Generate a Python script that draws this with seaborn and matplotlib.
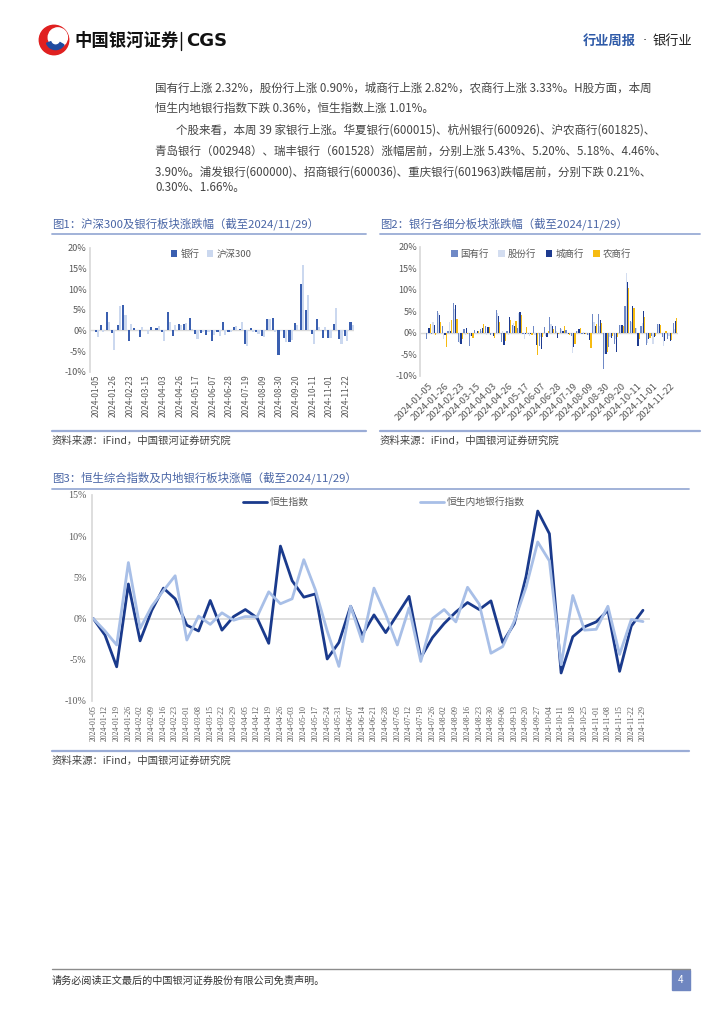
import pandas as pd
import matplotlib.pyplot as plt
import matplotlib.patches as mpatches
from matplotlib.lines import Line2D
from matplotlib.ticker import PercentFormatter
import seaborn as sns

sns.set_theme(style="white")
plt.rcParams['font.family'] = ['Noto Sans CJK SC', 'DejaVu Sans']
plt.rcParams['axes.unicode_minus'] = False

W, H = 724, 1024

# A股周度（图1、图2）
a_weeks = ["2024-01-05", "2024-01-12", "2024-01-19", "2024-01-26", "2024-02-02", "2024-02-08",
           "2024-02-23", "2024-03-01", "2024-03-08", "2024-03-15", "2024-03-22", "2024-03-29",
           "2024-04-03", "2024-04-12", "2024-04-19", "2024-04-26", "2024-04-30", "2024-05-10",
           "2024-05-17", "2024-05-24", "2024-05-31", "2024-06-07", "2024-06-14", "2024-06-21",
           "2024-06-28", "2024-07-05", "2024-07-12", "2024-07-19", "2024-07-26", "2024-08-02",
           "2024-08-09", "2024-08-16", "2024-08-23", "2024-08-30", "2024-09-06", "2024-09-13",
           "2024-09-20", "2024-09-27", "2024-09-30", "2024-10-11", "2024-10-18", "2024-10-25",
           "2024-11-01", "2024-11-08", "2024-11-15", "2024-11-22", "2024-11-29"]

bank = [-0.4, 1.4, 4.4, -0.7, 1.3, 6.1, -2.5, 0.5, -1.6, 0.2, 0.9, 0.6,
        -0.5, 4.5, -1.3, 1.5, 1.5, 3.0, -0.8, -0.6, -1.2, -2.6, -0.3, 2.0,
        -0.3, 0.9, 0.4, -3.3, 0.5, -0.3, -1.3, 2.7, 2.9, -5.9, -1.8, -2.9,
        1.8, 11.2, 4.9, -0.8, 2.7, -1.8, -1.8, 1.5, -2.0, -1.4, 2.0]
hs300 = [-1.5, -0.4, 2.0, -4.7, 5.8, 3.6, 1.5, 0.1, 0.8, -0.8, 0.2, 1.0,
         -2.6, 2.0, 1.2, 1.2, 1.7, 0.3, -2.0, -0.4, -0.5, -1.0, -1.4, -1.0,
         -0.5, 1.1, 2.0, -3.7, -0.4, -0.8, -1.6, 2.7, -0.5, -0.2, -2.8, -2.4,
         1.3, 15.8, 8.5, -3.4, 0.9, 0.8, -1.8, 5.5, -3.4, -2.6, 1.3]

state = [-1.5, -0.3, 5.0, 1.5, 0.3, 7.0, -2.2, 0.9, -3.2, 0.7, 0.8, 1.5,
         -0.5, 5.3, -2.2, 0.3, 1.8, 1.0, -0.3, -0.3, 1.5, -3.0, 1.4, 3.6,
         1.6, 1.0, 0.6, -0.8, 0.5, -0.3, -0.5, 4.4, 4.4, -8.5, -3.3, -2.7,
         1.9, 6.3, 2.8, 1.0, 1.6, -2.8, -0.8, 2.1, -0.9, -1.5, 2.32]
joint = [-0.3, 2.5, 4.5, -1.5, 2.4, 5.5, -2.5, -0.5, -0.8, -0.4, 0.3, -0.5,
         -0.3, 4.5, 0.5, -0.5, 2.2, 4.5, -1.5, -0.8, -0.5, -1.0, -0.8, 2.0,
         0.5, 0.8, -0.3, -4.8, 0.3, 0.2, -0.6, 2.5, 1.5, -5.0, -1.0, -1.5,
         1.9, 14.0, 2.5, 1.0, 2.3, -2.3, -2.6, 2.0, -3.0, -0.8, 0.90]
city = [1.0, 1.7, 4.2, -0.5, 0.3, 6.5, -2.6, 1.2, -0.8, 0.3, 1.2, 1.3,
        -0.7, 4.0, -2.8, 3.6, 1.5, 4.7, -0.2, -0.4, -2.9, -3.8, -1.0, 1.5,
        -1.2, 0.5, -0.4, -3.4, 0.8, -0.2, -1.8, 1.6, 2.9, -4.9, -1.2, -4.6,
        1.9, 11.8, 6.2, -3.1, 5.1, -1.5, -1.1, 2.0, -2.0, -2.0, 2.82]
rural = [2.0, -0.5, 2.5, -3.4, 2.9, 3.2, -1.4, -0.4, -1.3, 0.5, 2.0, 1.4,
         -1.2, 2.5, -2.0, 3.0, 2.8, 4.2, 1.4, -0.5, -5.2, -1.0, 0.5, 0.8,
         -0.3, 1.6, -0.6, -2.7, 1.2, -0.4, -3.5, 2.0, 2.3, -4.5, -0.8, -1.0,
         1.5, 10.5, 5.7, -1.5, 3.6, -1.2, -0.7, 1.9, 0.5, -1.6, 3.33]

# 港股周度（图3）
hk_weeks = ["2024-01-05", "2024-01-12", "2024-01-19", "2024-01-26", "2024-02-02", "2024-02-09",
            "2024-02-16", "2024-02-23", "2024-03-01", "2024-03-08", "2024-03-15", "2024-03-22",
            "2024-03-29", "2024-04-05", "2024-04-12", "2024-04-19", "2024-04-26", "2024-05-03",
            "2024-05-10", "2024-05-17", "2024-05-24", "2024-05-31", "2024-06-07", "2024-06-14",
            "2024-06-21", "2024-06-28", "2024-07-05", "2024-07-12", "2024-07-19", "2024-07-26",
            "2024-08-02", "2024-08-09", "2024-08-16", "2024-08-23", "2024-08-30", "2024-09-06",
            "2024-09-13", "2024-09-20", "2024-09-27", "2024-10-04", "2024-10-11", "2024-10-18",
            "2024-10-25", "2024-11-01", "2024-11-08", "2024-11-15", "2024-11-22", "2024-11-29"]
hsi = [0.0, -2.0, -5.85, 4.2, -2.7, 1.0, 3.7, 2.4, -0.8, -1.5, 2.2, -1.4,
       0.25, 1.1, 0.1, -3.0, 8.8, 4.6, 2.6, 3.0, -4.9, -2.9, 1.5, -2.0,
       0.45, -1.7, 0.5, 2.7, -4.75, -2.3, -0.6, 0.8, 1.95, 1.1, 2.15, -2.9,
       -0.6, 5.1, 13.05, 10.3, -6.6, -2.2, -1.0, -0.4, 1.0, -6.4, -0.9, 1.01]
hs_bank = [0.0, -1.5, -3.2, 6.8, -1.2, 1.5, 3.4, 5.2, -2.6, 0.3, -0.7, 0.7,
           -0.2, 0.25, 0.2, 3.25, 1.8, 2.4, 7.15, 3.45, -1.5, -5.8, 1.5, -2.8,
           3.7, 0.5, -3.2, 1.3, -5.2, 0.0, 1.1, -0.4, 3.8, 1.75, -4.2, -3.4,
           -0.3, 3.8, 9.3, 7.0, -5.6, 2.8, -1.4, -1.3, 1.5, -4.35, -0.1, -0.36]

fig = plt.figure(figsize=(W / 100, H / 100), dpi=100)


def fx(x):
    return x / W


def fy(y):
    return 1 - y / H


def hline(x0, x1, y, color, lw=1.0):
    fig.add_artist(Line2D([fx(x0), fx(x1)], [fy(y), fy(y)], transform=fig.transFigure,
                          color=color, lw=lw))


title_c = "#4a66a6"
rule_c = "#9aacd6"
tick_c = "#595959"
grid_c = "#d9d9d9"

# ---------- 页眉 ----------
lax = fig.add_axes([fx(38), fy(56), fx(32), 32 / H])
lax.set_xlim(0, 1)
lax.set_ylim(0, 1)
lax.set_aspect("equal")
lax.axis("off")
lax.add_patch(mpatches.Circle((0.5, 0.5), 0.46, color="#e02020"))
lax.add_patch(mpatches.Circle((0.62, 0.58), 0.3, color="white"))
lax.add_patch(mpatches.Wedge((0.55, 0.5), 0.3, 200, 330, width=0.14, color="#1f4aa0"))
fig.text(fx(74), fy(41), "中国银河证券", fontsize=12.5, fontweight="bold", color="#111111", va="center")
fig.add_artist(Line2D([fx(181), fx(181)], [fy(32), fy(50)], transform=fig.transFigure,
                      color="#111111", lw=1.0))
fig.text(fx(186), fy(41), "CGS", fontsize=13, fontweight="bold", color="#111111", va="center",
         family="DejaVu Sans")
fig.text(fx(583), fy(41), "行业周报", fontsize=9.5, color="#2e5aa8", va="center", fontweight="bold")
fig.text(fx(645), fy(41), "·", fontsize=9.5, color="#333333", va="center", ha="center",
         family="DejaVu Sans")
fig.text(fx(653), fy(41), "银行业", fontsize=9.5, color="#222222", va="center")

# ---------- 正文 ----------
body = [
    (155, 88, "国有行上涨 2.32%，股份行上涨 0.90%，城商行上涨 2.82%，农商行上涨 3.33%。H股方面，本周"),
    (155, 108, "恒生内地银行指数下跌 0.36%，恒生指数上涨 1.01%。"),
    (176, 130, "个股来看，本周 39 家银行上涨。华夏银行(600015)、杭州银行(600926)、沪农商行(601825)、"),
    (155, 151, "青岛银行（002948）、瑞丰银行（601528）涨幅居前，分别上涨 5.43%、5.20%、5.18%、4.46%、"),
    (155, 172, "3.90%。浦发银行(600000)、招商银行(600036)、重庆银行(601963)跌幅居前，分别下跌 0.21%、"),
    (155, 188, "0.30%、1.66%。"),
]
for x, y, s in body:
    fig.text(fx(x), fy(y), s, fontsize=8.3, color="#444444", va="center")

# ---------- 图1 ----------
fig.text(fx(52), fy(224), "图1：沪深300及银行板块涨跌幅（截至2024/11/29）", fontsize=8.2,
         color=title_c, va="center")
hline(52, 366, 233.5, rule_c, 1.3)
hline(52, 366, 430.5, rule_c, 1.6)
fig.text(fx(52), fy(441), "资料来源：iFind，中国银河证券研究院", fontsize=7.5, color="#444444",
         va="center", style="italic")

df1 = pd.DataFrame({"week": a_weeks, "银行": bank, "沪深300": hs300}).melt(
    id_vars="week", var_name="series", value_name="value")
ax1 = fig.add_axes([fx(89.5), fy(371.7), (354.3 - 89.5) / W, (371.7 - 247.7) / H])
sns.barplot(data=df1, x="week", y="value", hue="series", order=a_weeks,
            hue_order=["银行", "沪深300"], palette=["#3a5fb0", "#cbd8ef"],
            saturation=1, width=0.78, linewidth=0, edgecolor="none", ax=ax1)

# ---------- 图2 ----------
fig.text(fx(380), fy(224), "图2：银行各细分板块涨跌幅（截至2024/11/29）", fontsize=8.2,
         color=title_c, va="center")
hline(380, 700, 233.5, rule_c, 1.3)
hline(380, 700, 430.5, rule_c, 1.6)
fig.text(fx(380), fy(441), "资料来源：iFind，中国银河证券研究院", fontsize=7.5, color="#444444",
         va="center", style="italic")

df2 = pd.DataFrame({"week": a_weeks, "国有行": state, "股份行": joint,
                    "城商行": city, "农商行": rural}).melt(
    id_vars="week", var_name="series", value_name="value")
ax2 = fig.add_axes([fx(420), fy(375.7), (677.7 - 420) / W, (375.7 - 246.7) / H])
sns.barplot(data=df2, x="week", y="value", hue="series", order=a_weeks,
            hue_order=["国有行", "股份行", "城商行", "农商行"],
            palette=["#6f89c6", "#d3ddf0", "#1d3a8f", "#f6bb12"],
            saturation=1, width=0.9, linewidth=0, edgecolor="none", ax=ax2)

for ax, lo in ((ax1, -1.3), (ax2, -1.55)):
    ax.set_ylim(-10, 20)
    ax.set_xlim(lo, 46.5)
    ax.axhline(0, color=grid_c, lw=1.0, zorder=0)
    ax.set_xlabel("")
    ax.set_ylabel("")
    ax.yaxis.set_major_formatter(PercentFormatter(decimals=0))
    ax.set_yticks([-10, -5, 0, 5, 10, 15, 20])
    ax.set_xticks(range(0, 47, 3))
    sns.despine(ax=ax, bottom=True)
    ax.spines["left"].set_color(grid_c)
    ax.tick_params(length=0, labelsize=6.6, colors=tick_c, pad=2)

ax1.set_xticklabels(a_weeks[::3], rotation=90, fontsize=6.0)
ax2.set_xticklabels(a_weeks[::3], rotation=45, ha="right", rotation_mode="anchor", fontsize=6.8)
ax2.tick_params(axis="x", pad=4)

ax1.legend(loc="center", bbox_to_anchor=(fx(211), fy(254)), bbox_transform=fig.transFigure,
           ncol=2, frameon=False, fontsize=6.8, handlelength=0.7, handleheight=0.8,
           handletextpad=0.3, columnspacing=0.8, labelcolor=tick_c)
ax2.legend(loc="center", bbox_to_anchor=(fx(541), fy(254)), bbox_transform=fig.transFigure,
           ncol=4, frameon=False, fontsize=6.8, handlelength=0.7, handleheight=0.8,
           handletextpad=0.3, columnspacing=1.0, labelcolor=tick_c)

# ---------- 图3 ----------
fig.text(fx(52), fy(478), "图3：恒生综合指数及内地银行板块涨幅（截至2024/11/29）", fontsize=8.2,
         color=title_c, va="center")
hline(52, 689, 488.5, rule_c, 1.3)
hline(52, 689, 750.5, rule_c, 1.6)
fig.text(fx(52), fy(761), "资料来源：iFind，中国银河证券研究院", fontsize=7.5, color="#444444",
         va="center", style="italic")

df3 = pd.DataFrame({"idx": range(len(hk_weeks)), "恒生指数": hsi, "恒生内地银行指数": hs_bank}).melt(
    id_vars="idx", var_name="series", value_name="value")
ax3 = fig.add_axes([fx(92.3), fy(701), (650 - 92.3) / W, (701 - 495) / H])
sns.lineplot(data=df3, x="idx", y="value", hue="series",
             hue_order=["恒生指数", "恒生内地银行指数"], palette=["#1a3a8c", "#a8bfe7"],
             linewidth=2.0, ax=ax3)
ax3.set_xlim(-0.085, 47.6)
ax3.set_ylim(-10, 15)
ax3.axhline(0, color=grid_c, lw=1.2, zorder=0)
ax3.set_xlabel("")
ax3.set_ylabel("")
ax3.set_yticks([-10, -5, 0, 5, 10, 15])
ax3.yaxis.set_major_formatter(PercentFormatter(decimals=0))
ax3.set_xticks(range(len(hk_weeks)))
ax3.set_xticklabels(hk_weeks, rotation=90, fontsize=5.4, family="Liberation Serif")
for lab in ax3.get_yticklabels():
    lab.set_family("Liberation Serif")
sns.despine(ax=ax3, bottom=True)
ax3.spines["left"].set_color(grid_c)
ax3.tick_params(length=0, labelsize=7.2, colors=tick_c, pad=4)
ax3.tick_params(axis="x", labelsize=5.6, pad=3)
ax3.legend(loc="center", bbox_to_anchor=(fx(384), fy(502)), bbox_transform=fig.transFigure,
           ncol=2, frameon=False, fontsize=7.0, handlelength=2.4, handletextpad=0.3,
           columnspacing=11.5, labelcolor=tick_c)

# ---------- 页脚 ----------
hline(52, 690, 969, "#8c8c8c", 1.0)
fig.text(fx(52), fy(981), "请务必阅读正文最后的中国银河证券股份有限公司免责声明。", fontsize=7.3,
         color="#333333", va="center")
fig.add_artist(mpatches.Rectangle((fx(672), fy(990)), fx(18), 20 / H, transform=fig.transFigure,
                                  color="#6f86c0"))
fig.text(fx(681), fy(980), "4", fontsize=7, color="white", ha="center", va="center")

fig.savefig("out.png", dpi=100)
